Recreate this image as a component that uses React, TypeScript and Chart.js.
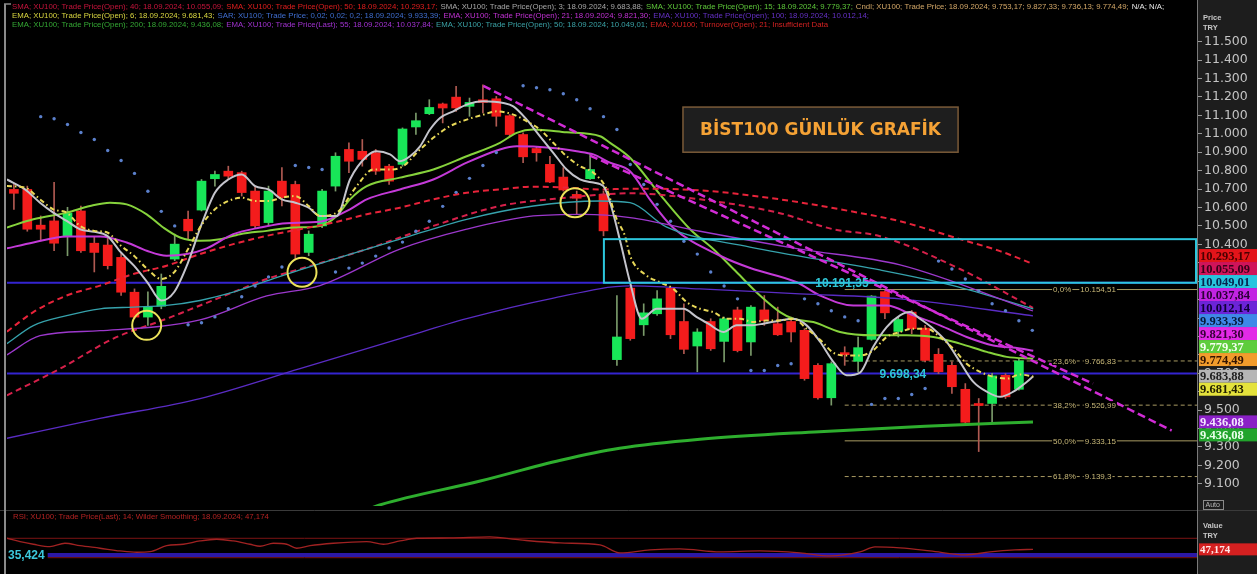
import React, { useEffect, useRef } from 'react';
import { Chart, registerables } from 'chart.js';
Chart.register(...registerables);

// ---------- candles (index 0..75) ----------
const opens = [10698,10698,10504,10527,10446,10581,10406,10396,10329,10140,10005,10064,10320,10536,10586,10756,10797,10789,10689,10518,10743,10725,10356,10500,10716,10915,10905,10897,10824,10834,11037,11109,11162,11199,11149,11185,11190,11098,10996,10920,10834,10765,10671,10756,10671,9774,10162,9963,10023,10162,9981,9848,9981,9873,10044,9870,10044,9969,9981,9933,9743,9567,9812,9765,9884,10143,9927,10032,9945,9803,9743,9613,9533,9536,9689,9613];
const highs = [10725,10716,10554,10736,10601,10608,10439,10439,10356,10158,10142,10239,10455,10581,10752,10797,10824,10797,10716,10716,10816,10743,10473,10698,10897,10951,10969,10915,10834,11032,11113,11185,11167,11257,11194,11266,11203,11104,11005,10932,10878,10816,10689,10888,10689,10122,10167,10077,10149,10167,10077,9942,9996,10005,10059,10068,10122,10059,10005,9942,9752,9762,9844,9897,10122,10149,10005,10041,9960,9834,9762,9644,9563,9699,9698,9780];
const lows = [10590,10471,10419,10365,10338,10356,10250,10266,10122,9996,9960,10050,10311,10428,10581,10716,10752,10662,10491,10500,10608,10320,10338,10491,10689,10789,10824,10779,10725,10824,10996,11104,11059,11122,11095,11113,11041,10986,10843,10851,10735,10689,10563,10752,10446,9743,9879,9905,10014,9888,9807,9708,9824,9762,9816,9797,9960,9905,9870,9662,9559,9527,9743,9708,9879,9996,9897,9915,9762,9698,9590,9428,9275,9437,9563,9608];
const closes = [10677,10482,10482,10406,10569,10365,10356,10284,10140,10005,10059,10172,10401,10473,10743,10779,10770,10681,10500,10689,10654,10347,10455,10689,10878,10851,10861,10797,10743,11026,11071,11143,11140,11140,11170,11170,11095,10996,10875,10897,10738,10695,10650,10806,10473,9897,9888,10028,10104,9909,9830,9924,9833,9996,9823,10059,9986,9909,9924,9671,9567,9752,9801,9839,10119,10028,9992,9942,9770,9708,9627,9434,9525,9686,9572,9767];

const priceTicks = [9100,9200,9300,9400,9500,9600,9700,9800,9900,10000,10100,10200,10300,10400,10500,10600,10700,10800,10900,11000,11100,11200,11300,11400,11500];

// ---------- indicator lines: [candle index, value] ----------
const sma3: [number, number][] = [[-0.52,10752],[0.83,10698],[1.95,10626],[2.94,10572],[3.94,10527],[4.93,10482],[6,10468],[6.97,10446],[7.99,10356],[8.96,10284],[9.96,10194],[11,10095],[11.95,10140],[13,10302],[13.96,10500],[15,10680],[16,10752],[17,10779],[18,10716],[19,10698],[20,10644],[21,10626],[22,10599],[22.84,10554],[24.09,10554],[25.08,10752],[26.33,10878],[27.07,10905],[28.07,10888],[28.81,10851],[29.56,10878],[30.31,10932],[31.05,11023],[31.8,11086],[32.79,11122],[33.79,11158],[35.03,11176],[36.52,11167],[37.27,11149],[38.27,11077],[39.26,10986],[40.25,10897],[41.25,10806],[42.24,10752],[43.24,10735],[43.99,10716],[44.6,10600],[45.3,10400],[45.98,10194],[46.85,9996],[47.97,10050],[48.96,10050],[49.96,10050],[50.96,10005],[51.82,9969],[52.94,9924],[53.94,9960],[54.93,9960],[55.93,9969],[57.17,9987],[58.16,9996],[59.16,9960],[60.16,9871],[61.15,9762],[62.15,9689],[63.14,9704],[64.13,9844],[65.13,9951],[66.13,10014],[66.87,10032],[67.61,9996],[68.61,9942],[69.61,9870],[70.6,9762],[71.6,9653],[72.6,9600],[73.59,9572],[74.58,9600],[75.58,9653],[76.07,9684]];
const ema6: [number, number][] = [[-0.52,10716],[0.83,10708],[1.95,10644],[2.94,10590],[3.94,10572],[4.93,10500],[6,10473],[6.97,10464],[7.99,10392],[8.96,10338],[9.96,10266],[11,10212],[11.95,10248],[13,10374],[13.96,10500],[15,10590],[16,10635],[17,10653],[18,10635],[19,10635],[20,10653],[21,10662],[22,10608],[22.84,10554],[24.09,10572],[25.58,10716],[26.82,10806],[28.07,10806],[29.06,10824],[30.06,10897],[31.3,10978],[32.54,11041],[33.79,11077],[35.03,11104],[36.03,11122],[37.27,11104],[38.27,11068],[39.26,11023],[40.25,10951],[41.25,10878],[42.24,10824],[43.24,10789],[44.24,10698],[44.99,10536],[45.6,10446],[45.98,10338],[47.22,10230],[48.21,10194],[49.21,10158],[50.21,10086],[51.2,10050],[52.19,10032],[53.19,9996],[54.19,9996],[55.18,9978],[56.18,9987],[57.17,9987],[58.16,9996],[59.16,9942],[60.16,9882],[61.15,9812],[62.15,9796],[63.14,9796],[64.13,9825],[65.13,9897],[66.13,9924],[67.12,9942],[68.12,9942],[69.11,9897],[70.1,9834],[71.1,9752],[72.1,9708],[73.09,9681],[74.09,9671],[75.08,9693],[76.07,9683]];
const sma15: [number, number][] = [[-0.52,10491],[1.45,10536],[3.94,10572],[5.68,10608],[7.17,10626],[8.42,10617],[9.91,10563],[11.15,10491],[12.4,10437],[13.89,10419],[15.38,10428],[16.87,10455],[18.87,10473],[20.85,10491],[22.84,10500],[24.09,10554],[25.08,10644],[26.33,10716],[28.81,10762],[31.3,10806],[33.79,10878],[36.27,10951],[37.52,11005],[38.76,11023],[41.25,11008],[43.74,10987],[44.49,10951],[45.98,10870],[48.21,10671],[50.46,10482],[52.19,10374],[53.94,10248],[55.68,10122],[57.17,10032],[58.16,9996],[59.66,9978],[61.65,9924],[64.13,9906],[66.63,9906],[68.61,9897],[70.6,9861],[72.6,9816],[74.09,9789],[76.07,9779]];
const ema21: [number, number][] = [[-0.52,10378],[1.45,10410],[3.94,10443],[6.43,10443],[8.42,10410],[9.91,10365],[11.4,10338],[12.9,10347],[14.39,10378],[16.37,10455],[18.37,10491],[20.36,10515],[22.84,10522],[25.08,10590],[26.33,10644],[28.81,10698],[31.3,10752],[33.79,10843],[36.27,10915],[37.52,10932],[40.01,10924],[42,10905],[43.24,10888],[44.49,10843],[45.98,10797],[47.5,10640],[49.2,10490],[52.7,10338],[55,10270],[58.42,10194],[60.16,10122],[62.64,10068],[65.13,10068],[67.12,10014],[69.11,9960],[71.1,9897],[73.09,9851],[75.08,9835],[76.07,9822]];
const sma50: [number, number][] = [[-0.52,9926],[1.45,10032],[3.94,10122],[6.43,10176],[8.91,10239],[11.4,10284],[13.89,10347],[16.37,10401],[18.87,10446],[21.35,10482],[23.84,10518],[26.33,10563],[28.81,10599],[31.3,10644],[33.79,10680],[36.27,10698],[38.76,10713],[41.25,10708],[43.74,10698],[45.98,10702],[51.2,10693],[57.17,10644],[62.4,10580],[66.13,10525],[70.6,10428],[73.59,10363],[76.05,10293]];
const sma40: [number, number][] = [[-0.52,9580],[3.44,9725],[7.42,9888],[11.4,9996],[13.89,10068],[16.37,10140],[18.87,10212],[21.35,10266],[26.33,10374],[31.3,10500],[36.27,10608],[41.25,10653],[45.98,10677],[51.2,10644],[57.17,10569],[61.13,10482],[64.63,10444],[70.6,10266],[76.05,10055]];
const ema50: [number, number][] = [[-0.52,9861],[1.45,9959],[3.94,10013],[6.43,10050],[8.91,10059],[11.4,10068],[13.89,10095],[16.37,10140],[18.87,10201],[21.35,10261],[28.81,10428],[33.79,10536],[38.76,10608],[43.74,10635],[45.98,10626],[48.72,10493],[54.93,10385],[64.63,10261],[70.1,10176],[76.07,10049]];
const ema55: [number, number][] = [[-0.52,9800],[1.95,9904],[6.43,9931],[13.89,9990],[18.87,10120],[22.84,10176],[28.81,10374],[33.79,10482],[38.76,10554],[42.49,10563],[45.98,10545],[51.2,10471],[58.66,10374],[66.13,10288],[76.05,10038]];
const ema100: [number, number][] = [[-0.52,9347],[6.43,9455],[13.89,9563],[21.35,9725],[28.81,9888],[33.79,9996],[40.01,10104],[45.98,10174],[51.2,10158],[58.66,10131],[66.13,10104],[76.05,10012]];
const ema200: [number, number][] = [[26.2,8955],[27.3,8985],[34.8,9115],[40.8,9228],[45.2,9293],[51.2,9342],[60.1,9383],[68,9412],[76.05,9436]];
const sar: [number, number][] = [[2,11093],[3,11082],[4,11050],[5,11007],[6,10969],[7,10909],[8,10855],[9,10785],[10,10688],[11,10579],[12,10500],[13,9963],[14,9974],[15,10006],[16,10050],[17,10115],[18,10174],[19,10223],[20,10277],[21,10828],[22,10817],[23,10806],[24,10250],[25,10271],[26,10298],[27,10336],[28,10380],[29,10412],[30,10471],[31,10525],[32,10606],[33,10682],[34,10758],[35,10828],[36,10898],[38,11261],[39,11250],[40,11239],[41,11217],[42,11185],[43,11136],[44,11093],[45,11023],[46,10833],[47,10725],[48,10617],[49,10525],[50,10417],[51,10347],[52,10250],[53,10174],[54,10104],[55,9715],[56,9715],[57,9742],[58,9752],[59,10104],[60,10077],[61,10039],[62,10006],[63,9985],[64,9531],[65,9563],[66,9563],[67,9585],[68,9617],[69,10309],[70,10266],[71,10212],[72,10147],[73,10077],[74,10039],[75,9985],[76,9933]];
const trendA: [number, number][] = [[35.03,11260],[86.4,9389]];
const trendB: [number, number][] = [[43.0,10882],[80.53,9644]];
const hLevels = [10191.35, 9698.34];
const hLevelLabels = ['10.191,35', '9.698,34'];
const hLevelLabelX = [59.8, 64.6];
const zoneBox = { x0: 44.03, top: 10428, bottom: 10191.35 };
const fibStart = 62.0;
const fibLabelX = 77.55;
const fibValues = [10154.51, 9766.83, 9526.99, 9333.15, 9139.3];
const fibPct = ['0,0%', '23,6%', '38,2%', '50,0%', '61,8%'];
const fibText = ['10.154,51', '9.766,83', '9.526,99', '9.333,15', '9.139,3'];
const fibDashed = [false, true, true, false, true];
const circles: [number, number][] = [[9.91, 9960], [21.5, 10248], [41.87, 10626]];
const titleBox = { x0: 49.93, x1: 70.46, top: 11145, bottom: 10900, text: 'BİST100 GÜNLÜK GRAFİK' };

// ---------- RSI ----------
const rsi: [number, number][] = [[-0.52,70.1],[0.46,63.1],[1.45,57.7],[2.69,52.8],[3.81,59.8],[4.93,54.8],[6.43,49.5],[7.92,43.9],[9.16,41.2],[10.16,42.5],[11.4,54.8],[12.64,57.7],[13.89,64.5],[15.13,68],[16.37,64.5],[17.62,57.7],[18.37,53.6],[19.36,59.8],[20.36,57.7],[21.1,49.5],[22.1,54.8],[23.84,59.8],[26.33,63.1],[27.57,57.7],[28.81,64.5],[30.06,70.1],[32.54,70.7],[35.52,72.8],[37.77,66.6],[40.75,60.4],[43.74,56.3],[45.23,39.8],[47.47,46],[49.7,48.1],[52.69,41.9],[55.68,43.9],[58.66,39.8],[60.9,33.6],[63.14,41.9],[64.26,52.2],[66.13,50.1],[68.37,43.9],[70.98,35.7],[72.84,41.9],[74.71,46],[76.05,47.174]];
const rsiLevels = [70, 30];
const rsiMark = 35.424;
const rsiLast = 47.174;

// ---------- tags / legend ----------
const priceTags = [
  { value: 10293.17, bg: '#e3141a', fg: '#4a0000' },
  { value: 10055.09, bg: '#d0145a', fg: '#38001a' },
  { value: 10049.01, bg: '#28c4de', fg: '#06244e' },
  { value: 10037.84, bg: '#c224e2', fg: '#2a0036' },
  { value: 10012.14, bg: '#6c24d8', fg: '#0e0036' },
  { value: 9933.39, bg: '#3f88e8', fg: '#061a3a' },
  { value: 9821.30, bg: '#e22ae6', fg: '#380038' },
  { value: 9779.37, bg: '#5ecd3c', fg: '#f4fff0' },
  { value: 9774.49, bg: '#f29c2c', fg: '#341400', anchor: true },
  { value: 9683.88, bg: '#b6b6b6', fg: '#202020' },
  { value: 9681.43, bg: '#e4e23c', fg: '#222000' },
  { value: 9436.08, bg: '#8a20c6', fg: '#f3e6ff' },
  { value: 9436.08, bg: '#22a42c', fg: '#eaffea' },
];
const legendRows: [string, string][][] = [
  [['SMA; XU100; Trade Price(Open); 40; 18.09.2024; 10.055,09;', '#c8143c'], ['SMA; XU100; Trade Price(Open); 50; 18.09.2024; 10.293,17;', '#e21e1e'], ['SMA; XU100; Trade Price(Open); 3; 18.09.2024; 9.683,88;', '#a8a8a8'], ['SMA; XU100; Trade Price(Open); 15; 18.09.2024; 9.779,37;', '#5ec83a'], ['Cndl; XU100; Trade Price; 18.09.2024; 9.753,17; 9.827,33; 9.736,13; 9.774,49;', '#d4a868'], ['N/A; N/A;', '#e8e8e8']],
  [['EMA; XU100; Trade Price(Open); 6; 18.09.2024; 9.681,43;', '#d8d640'], ['SAR; XU100; Trade Price; 0,02; 0,02; 0,2; 18.09.2024; 9.933,39;', '#3f6ed0'], ['EMA; XU100; Trade Price(Open); 21; 18.09.2024; 9.821,30;', '#c232d4'], ['EMA; XU100; Trade Price(Open); 100; 18.09.2024; 10.012,14;', '#6430c4']],
  [['EMA; XU100; Trade Price(Open); 200; 18.09.2024; 9.436,08;', '#34a834'], ['EMA; XU100; Trade Price(Last); 55; 18.09.2024; 10.037,84;', '#a232d2'], ['EMA; XU100; Trade Price(Open); 50; 18.09.2024; 10.049,01;', '#3aa2a6'], ['EMA; XU100; Turnover(Open); 21; Insufficient Data', '#d42222']],
];
const rsiTitle = 'RSI; XU100; Trade Price(Last); 14; Wilder Smoothing; 18.09.2024; 47,174';

const X_MIN = -0.515, X_MAX = 88.29;
const Y_MIN = 8979.5, Y_MAX = 11530.8;
const R_MIN = 0.5, R_MAX = 124.2;
const GREEN = '#18e658', RED = '#f41c1c';
const AXIS_BG = '#1d1d1d';

function fmt(v: number, dec: number) {
  const s = Math.abs(v).toFixed(dec);
  const [ip, fp] = s.split('.');
  const d = ip.replace(/\B(?=(\d{3})+(?!\d))/g, '.');
  return fp ? d + ',' + fp : d;
}
const pts = (a: [number, number][]) => a.map(([x, y]) => ({ x, y }));
const lineDs = (label: string, a: [number, number][], color: string, width: number, dash: number[] = [], order = 10) => ({
  type: 'line', label, data: pts(a), borderColor: color, borderWidth: width, borderDash: dash,
  pointRadius: 0, fill: false, cubicInterpolationMode: 'monotone', order,
});
const fixAxis = (s: any) => { s.width = 60; s.paddingTop = 0; s.paddingBottom = 0; };

function drawFrame(chart: any) {
  const { ctx, width, height, chartArea } = chart;
  ctx.save();
  ctx.fillStyle = '#000';
  ctx.fillRect(0, 0, width, height);
  ctx.fillStyle = AXIS_BG;
  ctx.fillRect(chartArea.right, 0, width - chartArea.right, height);
  ctx.restore();
}
function drawBorders(chart: any, topY: number) {
  const { ctx, height, chartArea } = chart;
  ctx.save();
  ctx.strokeStyle = '#8a8a8a';
  ctx.lineWidth = 2;
  ctx.beginPath();
  ctx.moveTo(5, topY); ctx.lineTo(5, height);
  ctx.stroke();
  ctx.lineWidth = 1;
  ctx.strokeStyle = '#7a7a7a';
  ctx.beginPath();
  ctx.moveTo(chartArea.right + 0.5, 0); ctx.lineTo(chartArea.right + 0.5, height);
  ctx.stroke();
  ctx.restore();
}

const mainOverlay = {
  id: 'mainOverlay',
  beforeDraw(chart: any) { drawFrame(chart); },
  afterDatasetsDraw(chart: any) {
    const { ctx, chartArea } = chart;
    const xs = chart.scales.x, ys = chart.scales.y;
    const X = (v: number) => xs.getPixelForValue(v);
    const Y = (v: number) => ys.getPixelForValue(v);
    ctx.save();
    ctx.beginPath();
    ctx.rect(chartArea.left, chartArea.top, chartArea.right - chartArea.left, chartArea.bottom - chartArea.top);
    ctx.clip();
    ctx.strokeStyle = '#2cc6dc';
    ctx.lineWidth = 2;
    ctx.strokeRect(X(zoneBox.x0), Y(zoneBox.top), chartArea.right - X(zoneBox.x0) - 1, Y(zoneBox.bottom) - Y(zoneBox.top));
    ctx.font = 'bold 12px "Liberation Sans"';
    ctx.fillStyle = '#2fc6d6';
    ctx.textBaseline = 'middle';
    ctx.textAlign = 'left';
    hLevels.forEach((v, i) => ctx.fillText(hLevelLabels[i], X(hLevelLabelX[i]), Y(v) + 1));
    ctx.font = '8px "Liberation Sans"';
    fibValues.forEach((v, i) => {
      const x = X(fibLabelX), y = Y(v);
      const w1 = ctx.measureText(fibPct[i]).width;
      const w2 = ctx.measureText(fibText[i]).width;
      ctx.fillStyle = '#000';
      ctx.fillRect(x - 1, y - 4, w1 + 2, 8);
      ctx.fillRect(x + w1 + 8, y - 4, w2 + 2, 8);
      ctx.fillStyle = '#c8b878';
      ctx.fillText(fibPct[i], x, y + 0.5);
      ctx.fillText(fibText[i], x + w1 + 9, y + 0.5);
    });
    ctx.strokeStyle = '#ece25a';
    ctx.lineWidth = 2;
    circles.forEach(([cx, cy]) => {
      ctx.beginPath();
      ctx.arc(X(cx), Y(cy), 14.5, 0, Math.PI * 2);
      ctx.stroke();
    });
    const bx = X(titleBox.x0), bx2 = X(titleBox.x1), by = Y(titleBox.top), by2 = Y(titleBox.bottom);
    ctx.fillStyle = '#1e1e1e';
    ctx.fillRect(bx, by, bx2 - bx, by2 - by);
    ctx.strokeStyle = '#7a5a38';
    ctx.lineWidth = 1.5;
    ctx.strokeRect(bx, by, bx2 - bx, by2 - by);
    ctx.fillStyle = '#f5a235';
    ctx.font = 'bold 17px "DejaVu Sans"';
    ctx.textAlign = 'center';
    ctx.fillText(titleBox.text, (bx + bx2) / 2, (by + by2) / 2 + 1);
    ctx.restore();
  },
  afterDraw(chart: any) {
    const { ctx, chartArea, width } = chart;
    const ys = chart.scales.y;
    drawBorders(chart, 4);
    ctx.save();
    ctx.strokeStyle = '#8a8a8a';
    ctx.lineWidth = 1.5;
    ctx.beginPath(); ctx.moveTo(4, 4); ctx.lineTo(11, 4); ctx.stroke();
    ctx.font = '7.8px "Liberation Sans"';
    ctx.textBaseline = 'middle';
    ctx.textAlign = 'left';
    legendRows.forEach((row, r) => {
      let x = 12;
      row.forEach(([t, c]) => {
        ctx.fillStyle = c;
        ctx.fillText(t, x, 7 + r * 9);
        x += ctx.measureText(t).width + 3;
      });
    });
    ctx.fillStyle = '#c8c8c8';
    ctx.font = 'bold 7.5px "Liberation Sans"';
    ctx.fillText('Price', chartArea.right + 6, 18);
    ctx.fillText('TRY', chartArea.right + 6, 28);
    const raw = priceTags.map(t => ys.getPixelForValue(t.value));
    const pos = raw.slice();
    const h = 13;
    const a = priceTags.findIndex((t: any) => t.anchor);
    for (let i = a - 1; i >= 0; i--) pos[i] = Math.min(raw[i], pos[i + 1] - h);
    for (let i = a + 1; i < pos.length; i++) pos[i] = Math.max(raw[i], pos[i - 1] + h);
    const left = chartArea.right + 2;
    ctx.font = 'bold 12.5px "Liberation Serif"';
    priceTags.forEach((t, i) => {
      ctx.fillStyle = t.bg;
      ctx.fillRect(left, pos[i] - h / 2, width - left, h);
      ctx.fillStyle = t.fg;
      ctx.fillText(fmt(t.value, 2), left + 1, pos[i] + 1);
    });
    ctx.strokeStyle = '#8a8a8a';
    ctx.lineWidth = 1;
    ctx.strokeRect(chartArea.right + 6.5, 500.5, 20, 9);
    ctx.fillStyle = '#b8b8b8';
    ctx.font = '7px "Liberation Sans"';
    ctx.fillText('Auto', chartArea.right + 8.5, 505.5);
    ctx.restore();
  },
};

const rsiOverlay = {
  id: 'rsiOverlay',
  beforeDraw(chart: any) { drawFrame(chart); },
  afterDraw(chart: any) {
    const { ctx, chartArea, width } = chart;
    const Y = (v: number) => chart.scales.y.getPixelForValue(v);
    ctx.save();
    ctx.strokeStyle = '#3a3a3a';
    ctx.lineWidth = 1;
    ctx.beginPath(); ctx.moveTo(0, 0.5); ctx.lineTo(width, 0.5); ctx.stroke();
    drawBorders(chart, 0);
    ctx.textBaseline = 'middle';
    ctx.textAlign = 'left';
    ctx.font = '7.8px "Liberation Sans"';
    ctx.fillStyle = '#b42222';
    ctx.fillText(rsiTitle, 13, 7);
    ctx.font = 'bold 12px "Liberation Sans"';
    const w = ctx.measureText(fmt(rsiMark, 3)).width;
    ctx.fillStyle = '#000';
    ctx.fillRect(7, Y(rsiMark) - 6, w + 4, 12);
    ctx.fillStyle = '#3cc8dc';
    ctx.fillText(fmt(rsiMark, 3), 8, Y(rsiMark) + 0.5);
    ctx.fillStyle = '#c8c8c8';
    ctx.font = 'bold 7.5px "Liberation Sans"';
    ctx.fillText('Value', chartArea.right + 6, 16);
    ctx.fillText('TRY', chartArea.right + 6, 26);
    const left = chartArea.right + 2;
    ctx.fillStyle = '#d42020';
    ctx.fillRect(left, Y(rsiLast) - 6, width - left, 12);
    ctx.fillStyle = '#ffe6e6';
    ctx.font = 'bold 11px "Liberation Serif"';
    ctx.fillText(fmt(rsiLast, 3), left + 1, Y(rsiLast) + 0.5);
    ctx.restore();
  },
};

function mainConfig(): any {
  const isUp = closes.map((c, i) => c >= opens[i]);
  return {
    type: 'bar',
    data: {
      datasets: [
        { type: 'bar', label: 'wick', data: opens.map((_, i) => ({ x: i, y: [lows[i], highs[i]] })), backgroundColor: isUp.map(u => (u ? '#7a9a6a' : '#b05a52')), barThickness: 1, grouped: false, order: 20 },
        { type: 'bar', label: 'body', data: opens.map((o, i) => ({ x: i, y: [o, closes[i]] })), backgroundColor: isUp.map(u => (u ? GREEN : RED)), barThickness: 9, minBarLength: 2, grouped: false, order: 19 },
        ...hLevels.map((v, i) => lineDs('level' + i, [[X_MIN, v], [X_MAX, v]], '#3424d0', 2, [], 21)),
        ...fibValues.map((v, i) => lineDs('fib' + i, [[fibStart, v], [X_MAX, v]], '#a89a62', 1, fibDashed[i] ? [4, 3] : [], 22)),
        lineDs('EMA200', ema200, '#2eae2e', 3),
        lineDs('EMA100', ema100, '#5a2cc4', 1.3),
        lineDs('EMA55', ema55, '#9c38cc', 1.3),
        lineDs('EMA50', ema50, '#36a2ac', 1.3),
        lineDs('SMA40', sma40, '#d6204a', 2, [6, 4]),
        lineDs('SMA50', sma50, '#e8233a', 2, [6, 4]),
        lineDs('EMA21', ema21, '#c43ad8', 2),
        lineDs('SMA15', sma15, '#86d23c', 2),
        lineDs('SMA3', sma3, '#c4c4cc', 2, [], 9),
        lineDs('EMA6', ema6, '#e8d858', 2, [5, 3, 1.5, 3], 8),
        { type: 'line', label: 'SAR', data: pts(sar), showLine: false, pointRadius: 1.7, pointBackgroundColor: '#5b80cc', pointBorderWidth: 0, order: 7 },
        lineDs('trendA', trendA, '#d22cd6', 2.5, [8, 4], 5),
        lineDs('trendB', trendB, '#d22cd6', 2.5, [8, 4], 5),
      ],
    },
    options: {
      animation: false, responsive: true, maintainAspectRatio: false, events: [],
      layout: { padding: { top: 36, left: 7, bottom: 2, right: 0 } },
      plugins: { legend: { display: false }, tooltip: { enabled: false }, title: { display: false } },
      scales: {
        x: { type: 'linear', min: X_MIN, max: X_MAX, display: false, offset: false },
        y: {
          type: 'linear', position: 'right', min: Y_MIN, max: Y_MAX,
          afterBuildTicks: (s: any) => { s.ticks = priceTicks.map(v => ({ value: v })); },
          afterFit: fixAxis,
          grid: { drawOnChartArea: false, color: '#9a9a9a', tickLength: 5 },
          border: { color: '#7a7a7a' },
          ticks: { color: '#c4c4c4', padding: 2, font: { family: 'DejaVu Sans', size: 12.5 }, callback: (v: any) => fmt(Number(v), 0) },
        },
      },
    },
    plugins: [mainOverlay],
  };
}

function rsiConfig(): any {
  return {
    type: 'line',
    data: {
      datasets: [
        ...rsiLevels.map((v, i) => lineDs('lvl' + i, [[X_MIN, v], [X_MAX, v]], '#7c1414', 1, [], 12)),
        lineDs('mark', [[X_MIN, rsiMark], [X_MAX, rsiMark]], '#2c18a6', 4, [], 11),
        lineDs('RSI', rsi, '#a02222', 1.3, [], 5),
      ],
    },
    options: {
      animation: false, responsive: true, maintainAspectRatio: false, events: [],
      layout: { padding: { top: 2, left: 7, bottom: 2, right: 0 } },
      plugins: { legend: { display: false }, tooltip: { enabled: false } },
      scales: {
        x: { type: 'linear', min: X_MIN, max: X_MAX, display: false, offset: false },
        y: {
          type: 'linear', position: 'right', min: R_MIN, max: R_MAX,
          afterFit: fixAxis,
          grid: { display: false }, ticks: { display: false }, border: { color: '#7a7a7a' },
        },
      },
    },
    plugins: [rsiOverlay],
  };
}

export default function App() {
  const mainRef = useRef<HTMLCanvasElement>(null);
  const rsiRef = useRef<HTMLCanvasElement>(null);
  useEffect(() => {
    document.body.style.margin = '0';
    document.body.style.background = '#000';
    const m = new Chart(mainRef.current as HTMLCanvasElement, mainConfig());
    const r = new Chart(rsiRef.current as HTMLCanvasElement, rsiConfig());
    return () => { m.destroy(); r.destroy(); };
  }, []);
  return (
    <div style={{ position: 'fixed', left: 0, top: 0, width: 1257, height: 574, background: '#000', overflow: 'hidden' }}>
      <div style={{ position: 'absolute', left: 0, top: 0, width: 1257, height: 510 }}>
        <canvas ref={mainRef} />
      </div>
      <div style={{ position: 'absolute', left: 0, top: 510, width: 1257, height: 64 }}>
        <canvas ref={rsiRef} />
      </div>
    </div>
  );
}
